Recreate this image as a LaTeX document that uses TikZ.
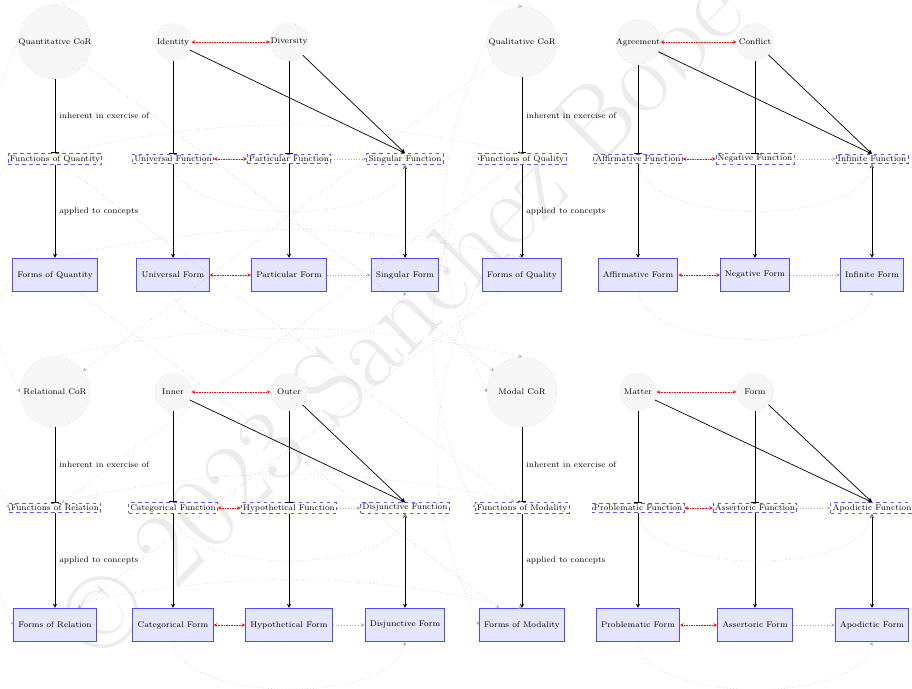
\documentclass[tikz,border=0pt]{standalone}
\usetikzlibrary{arrows}
\begin{document}
\begin{tikzpicture}[x=0.03cm,y=-0.03cm,font=\scriptsize,>=stealth]
\tikzstyle{cor} = [circle, draw=gray!50, dotted, fill=gray!6, minimum size=2.1cm, inner sep=0pt] % category of relation
\tikzstyle{aspect} = [circle, draw=gray!50, dotted, fill=gray!6, minimum size=1.1cm, inner sep=0pt] % moment
\tikzstyle{func} = [draw=blue!65, dashed, line width=0.6pt, fill=white, inner sep=1.5pt] % function of judgement
\tikzstyle{form} = [draw=blue!70, fill=blue!10, thick, minimum height=1cm, inner xsep=4pt] % form of judgement
\tikzstyle{link} = [semithick, black]
\tikzstyle{pair} = [red, densely dotted, <->]
\tikzstyle{cross} = [gray!70, dotted, ->]
\useasboundingbox (0,0) rectangle (912,688);
% watermark
\node[gray!15, rotate=45, font=\fontsize{90}{90}\selectfont] at (400,315) {\textcopyright\ 2023 Sanchez Bobe};
% quantity
\node[cor] (qncor) at (55,42) {Quantitative CoR};
\node[aspect] (qna) at (173,42) {Identity};
\node[aspect] (qnb) at (289,42) {Diversity};
\node[func] (qnfun) at (55,159) {Functions of Quantity};
\node[func] (qnfa) at (173,159) {Universal Function};
\node[func] (qnfb) at (289,159) {Particular Function};
\node[func] (qnfc) at (405,159) {Singular Function};
\node[form] (qnform) at (55,275) {Forms of Quantity};
\node[form] (qnma) at (173,275) {Universal Form};
\node[form] (qnmb) at (289,275) {Particular Form};
\node[form] (qnmc) at (405,275) {Singular Form};
% quality
\node[cor] (qlcor) at (522,42) {Qualitative CoR};
\node[aspect] (qla) at (638,42) {Agreement};
\node[aspect] (qlb) at (755,42) {Conflict};
\node[func] (qlfun) at (522,159) {Functions of Quality};
\node[func] (qlfa) at (638,159) {Affirmative Function};
\node[func] (qlfb) at (755,159) {Negative Function};
\node[func] (qlfc) at (872,159) {Infinite Function};
\node[form] (qlform) at (522,275) {Forms of Quality};
\node[form] (qlma) at (638,275) {Affirmative Form};
\node[form] (qlmb) at (755,275) {Negative Form};
\node[form] (qlmc) at (872,275) {Infinite Form};
% relation
\node[cor] (rlcor) at (55,392) {Relational CoR};
\node[aspect] (rla) at (173,392) {Inner};
\node[aspect] (rlb) at (289,392) {Outer};
\node[func] (rlfun) at (55,508) {Functions of Relation};
\node[func] (rlfa) at (173,508) {Categorical Function};
\node[func] (rlfb) at (289,508) {Hypothetical Function};
\node[func] (rlfc) at (405,508) {Disjunctive Function};
\node[form] (rlform) at (55,625) {Forms of Relation};
\node[form] (rlma) at (173,625) {Categorical Form};
\node[form] (rlmb) at (289,625) {Hypothetical Form};
\node[form] (rlmc) at (405,625) {Disjunctive Form};
% modality
\node[cor] (mdcor) at (522,392) {Modal CoR};
\node[aspect] (mda) at (638,392) {Matter};
\node[aspect] (mdb) at (755,392) {Form};
\node[func] (mdfun) at (522,508) {Functions of Modality};
\node[func] (mdfa) at (638,508) {Problematic Function};
\node[func] (mdfb) at (755,508) {Assertoric Function};
\node[func] (mdfc) at (872,508) {Apodictic Function};
\node[form] (mdform) at (522,625) {Forms of Modality};
\node[form] (mdma) at (638,625) {Problematic Form};
\node[form] (mdmb) at (755,625) {Assertoric Form};
\node[form] (mdmc) at (872,625) {Apodictic Form};
% inside each quadrant
\foreach \q in {qn,ql,rl,md}{
  \draw[link,-|] (\q cor) -- node[right,black] {inherent in exercise of} (\q fun);
  \draw[link,->] (\q fun) -- node[right,black] {applied to concepts} (\q form);
  \draw[pair] (\q a) -- (\q b);
  \draw[link,-|] (\q a) -- (\q fa);
  \draw[link,-|] (\q b) -- (\q fb);
  \draw[link,->] (\q a) -- (\q fc.north);
  \draw[link,->] (\q b) -- (\q fc.north);
  \draw[link,->] (\q fa) -- (\q ma);
  \draw[link,->] (\q fb) -- (\q mb);
  \draw[link,<->] (\q fc) -- (\q mc);
  \draw[pair] (\q fa) -- (\q fb);
  \draw[cross] (\q fb) -- (\q fc);
  \draw[cross] (\q fa.south) to[out=-80,in=-100,looseness=0.7] (\q fc.south);
  \draw[pair] (\q ma) -- (\q mb);
  \draw[cross] (\q mb) -- (\q mc);
  \draw[cross] (\q ma.south) to[out=-80,in=-100,looseness=0.7] (\q mc.south);
}
% between the quadrants
\foreach \l in {cor,fun,form}{
  \draw[cross] (qn\l.north) to[bend left=12] (ql\l.north);
  \draw[cross] (rl\l.north) to[bend left=12] (md\l.north);
  \draw[cross] (qn\l.west) to[bend right=25] (rl\l.west);
  \draw[cross] (ql\l.west) to[bend right=25] (md\l.west);
  \draw[cross] (qn\l) -- (md\l);
  \draw[cross] (ql\l) -- (rl\l);
}
\end{tikzpicture}
\end{document}
